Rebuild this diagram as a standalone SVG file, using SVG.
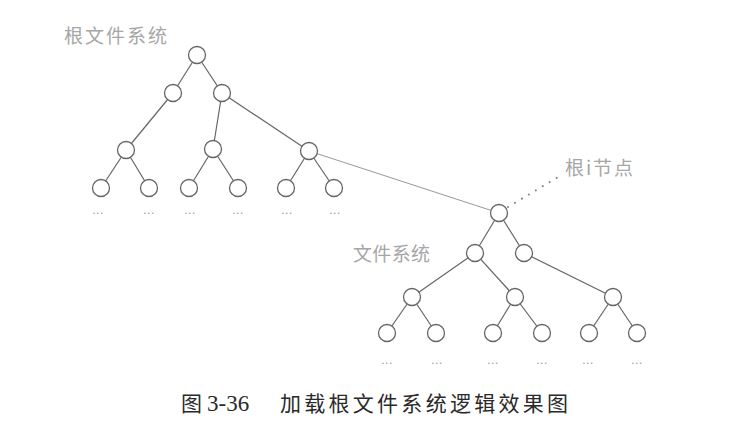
<svg xmlns="http://www.w3.org/2000/svg" width="737" height="433" viewBox="0 0 737 433">
<style>
.edge{stroke:#666;stroke-width:1.2;fill:none}
.faint{stroke:#999;stroke-width:1;fill:none}
.dot{stroke:#888;stroke-width:2;stroke-linecap:round;stroke-dasharray:0.1 8;fill:none}
.node circle{fill:#fff;stroke:#666;stroke-width:1.3}
.lbl{font-family:"Noto Sans CJK SC","Liberation Serif",serif;fill:#a6a6a6;font-size:19px}
.ell{font-family:"Liberation Sans",sans-serif;fill:#999;font-size:12px;letter-spacing:0.5px;text-anchor:middle}
.cap{font-family:"Noto Sans CJK SC","Liberation Serif",serif;fill:#2a2a2a;font-size:21px}
</style>
<rect width="737" height="433" fill="#fff"/>
<g id="connectors">
<line class="edge" x1="197" y1="55" x2="173" y2="93"/>
<line class="edge" x1="197" y1="55" x2="222" y2="93"/>
<line class="edge" x1="173" y1="93" x2="126" y2="150"/>
<line class="edge" x1="222" y1="93" x2="213" y2="149"/>
<line class="edge" x1="222" y1="93" x2="309" y2="151"/>
<line class="edge" x1="126" y1="150" x2="101" y2="188"/>
<line class="edge" x1="126" y1="150" x2="149" y2="188"/>
<line class="edge" x1="213" y1="149" x2="189" y2="188"/>
<line class="edge" x1="213" y1="149" x2="238" y2="188"/>
<line class="edge" x1="309" y1="151" x2="286" y2="188"/>
<line class="edge" x1="309" y1="151" x2="334" y2="188"/>
<line class="faint" x1="309" y1="151" x2="499" y2="213"/>
<line class="dot" x1="508" y1="207" x2="558" y2="177"/>
<line class="edge" x1="499" y1="213" x2="475" y2="253"/>
<line class="edge" x1="499" y1="213" x2="524" y2="253"/>
<line class="edge" x1="475" y1="253" x2="412" y2="297"/>
<line class="edge" x1="475" y1="253" x2="515" y2="297"/>
<line class="edge" x1="524" y1="253" x2="613" y2="297"/>
<line class="edge" x1="412" y1="297" x2="387" y2="333"/>
<line class="edge" x1="412" y1="297" x2="436" y2="333"/>
<line class="edge" x1="515" y1="297" x2="493" y2="333"/>
<line class="edge" x1="515" y1="297" x2="542" y2="333"/>
<line class="edge" x1="613" y1="297" x2="589" y2="333"/>
<line class="edge" x1="613" y1="297" x2="637" y2="333"/>
</g>
<g id="tree1-nodes" class="node">
<g id="n-root"><circle cx="197" cy="55" r="8.5"/></g>
<g id="n-a"><circle cx="173" cy="93" r="8.5"/></g>
<g id="n-b"><circle cx="222" cy="93" r="8.5"/></g>
<g id="n-a1"><circle cx="126" cy="150" r="8.5"/></g>
<g id="n-b1"><circle cx="213" cy="149" r="8.5"/></g>
<g id="n-b2"><circle cx="309" cy="151" r="8.5"/></g>
<g id="n-l1"><circle cx="101" cy="188" r="8.5"/></g>
<g id="n-l2"><circle cx="149" cy="188" r="8.5"/></g>
<g id="n-l3"><circle cx="189" cy="188" r="8.5"/></g>
<g id="n-l4"><circle cx="238" cy="188" r="8.5"/></g>
<g id="n-l5"><circle cx="286" cy="188" r="8.5"/></g>
<g id="n-l6"><circle cx="334" cy="188" r="8.5"/></g>
</g>
<g id="tree2-nodes" class="node">
<g id="m-root"><circle cx="499" cy="213" r="8.5"/></g>
<g id="m-a"><circle cx="475" cy="253" r="8.5"/></g>
<g id="m-b"><circle cx="524" cy="253" r="8.5"/></g>
<g id="m-a1"><circle cx="412" cy="297" r="8.5"/></g>
<g id="m-a2"><circle cx="515" cy="297" r="8.5"/></g>
<g id="m-b1"><circle cx="613" cy="297" r="8.5"/></g>
<g id="m-l1"><circle cx="387" cy="333" r="8.5"/></g>
<g id="m-l2"><circle cx="436" cy="333" r="8.5"/></g>
<g id="m-l3"><circle cx="493" cy="333" r="8.5"/></g>
<g id="m-l4"><circle cx="542" cy="333" r="8.5"/></g>
<g id="m-l5"><circle cx="589" cy="333" r="8.5"/></g>
<g id="m-l6"><circle cx="637" cy="333" r="8.5"/></g>
</g>
<g id="ellipses">
<text class="ell" x="98" y="214">...</text>
<text class="ell" x="149" y="214">...</text>
<text class="ell" x="190" y="214">...</text>
<text class="ell" x="238" y="214">...</text>
<text class="ell" x="287" y="214">...</text>
<text class="ell" x="335" y="214">...</text>
<text class="ell" x="387" y="364">...</text>
<text class="ell" x="437" y="364">...</text>
<text class="ell" x="493" y="364">...</text>
<text class="ell" x="542" y="364">...</text>
<text class="ell" x="588" y="364">...</text>
<text class="ell" x="637" y="364">...</text>
</g>
<g id="labels">
<text class="lbl" x="64" y="43" textLength="103">根文件系统</text>
<text class="lbl" x="565" y="175" textLength="68">根i节点</text>
<text class="lbl" x="353" y="261" textLength="77">文件系统</text>
</g>
<g id="caption">
<text class="cap" x="181" y="411">图</text>
<text class="cap" x="207" y="411" style="font-family:'Liberation Serif',serif;font-size:23px">3-36</text>
<text class="cap" x="280" y="411" textLength="288">加载根文件系统逻辑效果图</text>
</g>
</svg>
